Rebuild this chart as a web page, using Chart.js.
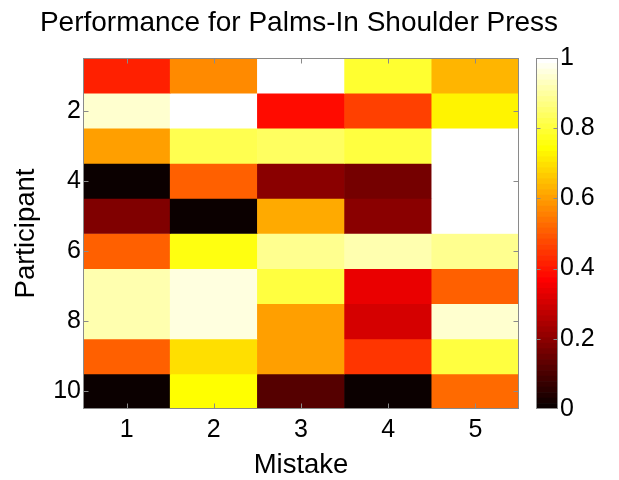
<!DOCTYPE html>
<html><head><meta charset="utf-8">
<script src="https://cdn.jsdelivr.net/npm/chart.js@4"></script>
<style>
html,body{margin:0;padding:0;background:#fff;}
#wrap{position:relative;width:619px;height:480px;background:#fff;}
canvas{position:absolute;left:0;top:0;}
</style></head><body>
<div id="wrap"><canvas id="heat" width="619" height="480"></canvas><canvas id="cbar" width="619" height="480"></canvas></div>
<script>
// ---- data ----
const mistakes = ['1', '2', '3', '4', '5'];
const participants = [1, 2, 3, 4, 5, 6, 7, 8, 9, 10];
const participant1  = [0.41, 0.566, 1.00, 0.785, 0.625];
const participant2  = [0.95, 1.00, 0.386, 0.456, 0.728];
const participant3  = [0.596, 0.814, 0.838, 0.81, 1.00];
const participant4  = [0.012, 0.515, 0.203, 0.159, 1.00];
const participant5  = [0.184, 0.01, 0.61, 0.203, 1.00];
const participant6  = [0.507, 0.765, 0.89, 0.91, 0.89];
const participant7  = [0.92, 0.96, 0.81, 0.335, 0.504];
const participant8  = [0.92, 0.955, 0.60, 0.31, 0.95];
const participant9  = [0.50, 0.695, 0.60, 0.44, 0.80];
const participant10 = [0.01, 0.735, 0.11, 0.012, 0.52];
const participantTicks = [2, 4, 6, 8, 10];
const colorTicks = [0, 0.2, 0.4, 0.6, 0.8, 1];
const colorTickLabels = ['0', '0.2', '0.4', '0.6', '0.8', '1'];
const colorLevels = 64;

const scores = [participant1, participant2, participant3, participant4, participant5,
                participant6, participant7, participant8, participant9, participant10];

// MATLAB "hot" colormap with 64 levels
function hot(v) {
  const i = Math.min(colorLevels, Math.floor(v * colorLevels) + 1);
  const r = Math.min(1, i / 24);
  const g = Math.min(1, Math.max(0, (i - 24) / 24));
  const b = Math.max(0, (i - 48) / 16);
  return 'rgb(' + Math.round(r * 255) + ',' + Math.round(g * 255) + ',' + Math.round(b * 255) + ')';
}

Chart.defaults.font.family = "Arial, 'Liberation Sans', Helvetica, sans-serif";
Chart.defaults.color = '#000';

const FRAME = '#8a8a8a';

function framePlugin(id, xTickLen, yTickLen, yTickVals, drawX) {
  return {
    id: id,
    afterDatasetsDraw(chart) {
      const ctx = chart.ctx, a = chart.chartArea;
      const L = Math.round(a.left) + 0.5, R = Math.round(a.right) - 0.5;
      const T = Math.round(a.top) + 0.5, B = Math.round(a.bottom) - 0.5;
      ctx.save();
      ctx.strokeStyle = FRAME;
      ctx.lineWidth = 1;
      ctx.beginPath();
      if (drawX) {
        const xs = chart.scales.x;
        mistakes.forEach((m, i) => {
          const px = Math.round(xs.getPixelForValue(i)) + 0.5;
          ctx.moveTo(px, B); ctx.lineTo(px, B - xTickLen);
          ctx.moveTo(px, T); ctx.lineTo(px, T + xTickLen);
        });
      }
      const ys = chart.scales.y;
      yTickVals.forEach(v => {
        const py = Math.round(ys.getPixelForValue(v)) + 0.5;
        ctx.moveTo(L, py); ctx.lineTo(L + yTickLen, py);
        ctx.moveTo(R, py); ctx.lineTo(R - yTickLen, py);
      });
      ctx.stroke();
      ctx.strokeRect(L, T, R - L, B - T);
      ctx.restore();
    }
  };
}

// ---- heatmap ----
const heatDatasets = participants.map((p, r) => ({
  label: 'Participant ' + p,
  data: scores[r].map(() => [p - 0.5, p + 0.5]),
  backgroundColor: scores[r].map(hot),
  borderWidth: 0,
  barPercentage: 1,
  categoryPercentage: 1,
  grouped: false
}));

new Chart(document.getElementById('heat'), {
  type: 'bar',
  data: { labels: mistakes, datasets: heatDatasets },
  options: {
    responsive: false,
    animation: false,
    devicePixelRatio: 1,
    layout: { padding: { left: 0, right: 21, top: 0, bottom: 0 } },
    plugins: {
      legend: { display: false },
      tooltip: { enabled: false },
      title: {
        display: true,
        text: 'Performance for Palms-In Shoulder Press',
        color: '#000',
        font: { size: 28, weight: 'normal', lineHeight: 1 },
        padding: { top: 9.6, bottom: 20.4 }
      }
    },
    scales: {
      x: {
        type: 'category',
        stacked: true,
        grid: { display: false, drawTicks: false },
        border: { display: false },
        ticks: { font: { size: 25 }, color: '#000', padding: 6 },
        title: { display: true, text: 'Mistake', color: '#000',
                 font: { size: 27.5, lineHeight: 1 }, padding: { top: 0, bottom: 1 } },
        afterFit: s => { s.height = 71; }
      },
      y: {
        type: 'linear',
        reverse: true,
        min: 0.5,
        max: 10.5,
        grid: { display: false, drawTicks: false },
        border: { display: false },
        afterBuildTicks: s => { s.ticks = participantTicks.map(v => ({ value: v })); },
        ticks: { font: { size: 25 }, color: '#000', padding: 2,
                 callback: v => String(v) },
        title: { display: true, text: 'Participant', color: '#000',
                 font: { size: 27.5, lineHeight: 1 }, padding: { top: 13, bottom: 0 } },
        afterFit: s => { s.width = 83; }
      },
      // empty right-hand gutter that leaves room for the colorbar
      gutter: {
        type: 'linear',
        position: 'right',
        grid: { display: false, drawTicks: false },
        border: { display: false },
        ticks: { display: false },
        afterFit: s => { s.width = 79; }
      }
    }
  },
  plugins: [framePlugin('heatFrame', 5, 5, participantTicks, true)]
});

// ---- colorbar ----
const levelIndex = Array.from({ length: colorLevels }, (_, k) => k);
const barDatasets = levelIndex.map(k => ({
  label: 'level ' + k,
  data: [[k / colorLevels, (k + 1) / colorLevels]],
  backgroundColor: hot((k + 0.5) / colorLevels),
  borderWidth: 0,
  barPercentage: 1,
  categoryPercentage: 1,
  grouped: false
}));

new Chart(document.getElementById('cbar'), {
  type: 'bar',
  data: { labels: [''], datasets: barDatasets },
  options: {
    responsive: false,
    animation: false,
    devicePixelRatio: 1,
    layout: { padding: { left: 536, right: 0, top: 58, bottom: 71 } },
    plugins: { legend: { display: false }, tooltip: { enabled: false }, title: { display: false } },
    scales: {
      x: { type: 'category', stacked: true, display: false },
      y: {
        type: 'linear',
        position: 'right',
        min: 0,
        max: 1,
        grid: { display: false, drawTicks: false },
        border: { display: false },
        afterBuildTicks: s => { s.ticks = colorTicks.map(v => ({ value: v })); },
        ticks: { font: { size: 25 }, color: '#000', padding: 2,
                 callback: (v, i) => colorTickLabels[i] },
        afterFit: s => { s.width = 61; }
      }
    }
  },
  plugins: [framePlugin('barFrame', 0, 4, [0.2, 0.4, 0.6, 0.8], false)]
});
</script>
</body></html>
